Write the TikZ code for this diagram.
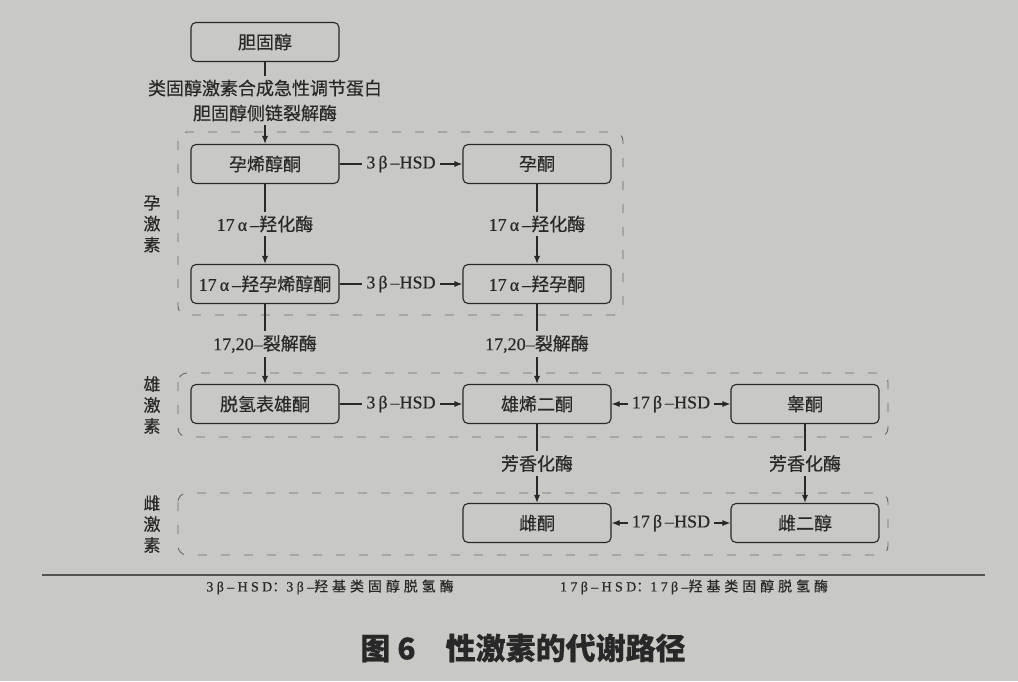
\documentclass[tikz,border=0pt]{standalone}
\usepackage{fontspec}
\setmainfont{Liberation Serif}[FakeBold=0.4]
\newfontfamily\cjk{Noto Sans CJK SC}[FakeBold=0.4]
\newfontfamily\cjknote{Noto Sans CJK SC}[LetterSpace=28,FakeBold=0.4]
\newfontfamily\latnote{Liberation Serif}[LetterSpace=24,FakeBold=0.4]
\usetikzlibrary{arrows.meta,positioning}
\definecolor{paper}{RGB}{200,200,196}
\definecolor{ink}{RGB}{40,40,40}

\begin{document}
\begin{tikzpicture}[x=1pt, y=-1pt, node distance=120pt,
	>={Latex[length=8pt,width=6pt]},
	main/.style = {draw=ink, line width=1.1pt, rounded corners=5pt, minimum width=148pt, minimum height=39pt, inner xsep=2pt, text=ink, font=\fontsize{18}{22}\selectfont\cjk},
	tag/.style = {fill=paper, inner sep=4pt, text=ink, font=\fontsize{18}{25}\selectfont\cjk},
	flow/.style = {draw=ink, line width=1.1pt, ->},
	group/.style = {draw=ink!70, line width=0.9pt, dash pattern=on 9pt off 14pt, rounded corners=9pt},
	side/.style = {align=center, text=ink, font=\fontsize{17}{21}\selectfont\cjk},
	note/.style = {text=ink, font=\fontsize{14}{16}\selectfont\latnote}]
	\path[use as bounding box, fill=paper] (0,0) rectangle (1018,681);
	\draw[group] (178,132) rectangle (623,315);
	\draw[group] (178,373) rectangle (888,437);
	\draw[group] (178,493) rectangle (888,555);
	\node[main] (1) at (265,42) {胆固醇};
	\node[main] (2) [below of=1,yshift=-2pt] {孕烯醇酮};
	\node[main] (3) [right of=2,xshift=152pt] {孕酮};
	\node[main] (4) [below of=2] {\textrm{17\,α\,–}羟孕烯醇酮};
	\node[main] (5) [below of=3] {\textrm{17\,α\,–}羟孕酮};
	\node[main] (6) [below of=4] {脱氢表雄酮};
	\node[main] (7) [below of=5] {雄烯二酮};
	\node[main] (8) [right of=7,xshift=148pt] {睾酮};
	\node[main] (9) [below of=7,yshift=1pt] {雌酮};
	\node[main] (10) [below of=8,yshift=1pt] {雌二醇};
	\node[side] (p) at (152,224) {孕\\激\\素};
	\node[side] (a) at (152,405) {雄\\激\\素};
	\node[side] (e) at (152,524) {雌\\激\\素};
	\draw[flow] (1) -- node[tag, align=center, pos=0.47] {类固醇激素合成急性调节蛋白\\胆固醇侧链裂解酶} (2);
	\draw[flow] (2) -- node[tag] {\textrm{3\,β\,–HSD}} (3);
	\draw[flow] (2) -- node[tag] {\textrm{17\,α\,–}羟化酶} (4);
	\draw[flow] (3) -- node[tag] {\textrm{17\,α\,–}羟化酶} (5);
	\draw[flow] (4) -- node[tag] {\textrm{3\,β\,–HSD}} (5);
	\draw[flow] (4) -- node[tag] {\textrm{17,20–}裂解酶} (6);
	\draw[flow] (5) -- node[tag] {\textrm{17,20–}裂解酶} (7);
	\draw[flow] (6) -- node[tag] {\textrm{3\,β\,–HSD}} (7);
	\draw[flow, <->] (7) -- node[tag] {\textrm{17\,β\,–HSD}} (8);
	\draw[flow] (7) -- node[tag] {芳香化酶} (9);
	\draw[flow] (8) -- node[tag] {芳香化酶} (10);
	\draw[flow, <->] (9) -- node[tag] {\textrm{17\,β\,–HSD}} (10);
	\draw[draw=ink!80, line width=1.5pt] (42,575) -- (985,575);
	\node[note] (n1) at (330,587) {3β–HSD{\cjknote ：}3β–{\cjknote 羟基类固醇脱氢酶}};
	\node[note] (n2) at (694,587) {17β–HSD{\cjknote ：}17β–{\cjknote 羟基类固醇脱氢酶}};
	\node[text=ink, font=\fontsize{30}{34}\selectfont\cjk\bfseries] (t) at (523,648) {图\hspace{7pt}6\hspace{30pt}性激素的代谢路径};
\end{tikzpicture}
\end{document}
